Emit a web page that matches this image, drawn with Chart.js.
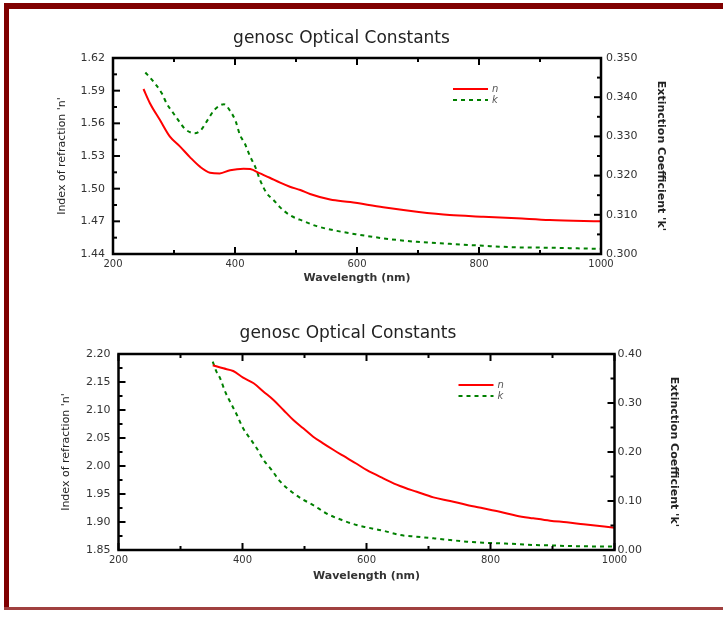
<!DOCTYPE html>
<html>
<head>
<meta charset="utf-8">
<title>genosc Optical Constants</title>
<script src="https://cdn.jsdelivr.net/npm/chart.js@4.4.1/dist/chart.umd.min.js"></script>
<style>
  body { margin: 0; width: 723px; height: 619px; background: #fff; position: relative; overflow: hidden; }
  .box { position: absolute; left: 0; width: 723px; }
  .band { position: absolute; background: #800000; }
</style>
</head>
<body>
<div class="band" style="left:4px; top:3px; width:719px; height:6px;"></div>
<div class="band" style="left:4px; top:3px; width:5px; height:607px;"></div>
<div class="band" style="left:4px; top:607px; width:719px; height:3px; background:#a0403f;"></div>

<div class="box" style="top:0; height:300px;"><canvas id="grafico1"></canvas></div>
<div class="box" style="top:300px; height:319px;"><canvas id="grafico2"></canvas></div>

<script>
// datos (longitud de onda en nm)
var xTicks = [200, 400, 600, 800, 1000];

// grafico de arriba
var arribaTicksN = [1.44, 1.47, 1.50, 1.53, 1.56, 1.59, 1.62];
var arribaTicksK = [0.300, 0.310, 0.320, 0.330, 0.340, 0.350];
var arribaOndaN = [250, 261, 277, 293, 310, 326, 343, 359, 375, 392, 414, 425, 441, 457, 474, 490, 507, 523, 556, 589, 643, 698, 752, 807, 862, 916, 1000];
var arribaN = [1.5915, 1.578, 1.563, 1.548, 1.5386, 1.529, 1.520, 1.5147, 1.514, 1.517, 1.5184, 1.518, 1.514, 1.510, 1.5055, 1.5018, 1.4988, 1.4951, 1.490, 1.4877, 1.4829, 1.4789, 1.4758, 1.4743, 1.4728, 1.4712, 1.4700];
var arribaOndaK = [253, 264, 280, 288, 299, 309, 318, 334, 344, 356, 367, 382, 392, 401, 408, 416, 425, 433, 441, 452, 463, 474, 490, 512, 534, 567, 600, 643, 698, 752, 807, 862, 916, 1000];
var arribaK = [0.3463, 0.3444, 0.3410, 0.3384, 0.3359, 0.3337, 0.3319, 0.3308, 0.3316, 0.3344, 0.3369, 0.3382, 0.3365, 0.3339, 0.3304, 0.3282, 0.3248, 0.3223, 0.3189, 0.3155, 0.3138, 0.3119, 0.3099, 0.3084, 0.3071, 0.3059, 0.3050, 0.3040, 0.3031, 0.3026, 0.3021, 0.3017, 0.3016, 0.3013];

// grafico de abajo
var abajoTicksN = [1.85, 1.90, 1.95, 2.00, 2.05, 2.10, 2.15, 2.20];
var abajoTicksK = [0.00, 0.10, 0.20, 0.30, 0.40];
var abajoOndaN = [352, 369, 385, 401, 418, 434, 450, 466, 482, 498, 514, 530, 547, 563, 584, 600, 627, 654, 681, 708, 735, 762, 788, 815, 842, 869, 896, 923, 950, 1000];
var abajoN = [2.180, 2.1744, 2.1696, 2.1577, 2.1477, 2.1327, 2.1179, 2.100, 2.0821, 2.0673, 2.0523, 2.0405, 2.0286, 2.0179, 2.004, 1.9929, 1.978, 1.9643, 1.954, 1.944, 1.9375, 1.9304, 1.9245, 1.9184, 1.9113, 1.9066, 1.9023, 1.8995, 1.8959, 1.8898];
var abajoOndaK = [352, 358, 364, 372, 380, 391, 401, 412, 423, 434, 447, 461, 479, 496, 514, 535, 563, 584, 600, 627, 654, 681, 708, 735, 762, 788, 815, 842, 869, 896, 923, 950, 1000];
var abajoK = [0.3843, 0.3639, 0.3504, 0.323, 0.3027, 0.2755, 0.2483, 0.228, 0.2075, 0.1837, 0.1633, 0.1394, 0.119, 0.1041, 0.0918, 0.0749, 0.0599, 0.051, 0.0463, 0.0394, 0.0306, 0.0272, 0.0238, 0.0204, 0.017, 0.015, 0.0136, 0.0122, 0.0102, 0.0095, 0.0082, 0.0075, 0.0072];

var fuente = 'DejaVu Sans';

function puntos(xs, ys) {
    return xs.map(function (x, i) { return { x: x, y: ys[i] }; });
}

// marco negro con marcas hacia adentro (mayores y menores)
var marcoTicks = {
    id: 'marcoTicks',
    afterDatasetsDraw: function (chart) {
        var ctx = chart.ctx, a = chart.chartArea, s = chart.scales;
        ctx.save();
        ctx.strokeStyle = '#000';
        ctx.lineWidth = 2;
        function marcas(scale, dibujar) {
            var vals = scale.ticks.map(function (t) { return t.value; });
            vals.forEach(function (v, i) {
                dibujar(scale.getPixelForValue(v), 7);
                if (i < vals.length - 1) dibujar(scale.getPixelForValue((v + vals[i + 1]) / 2), 4);
            });
        }
        function linea(x1, y1, x2, y2) {
            ctx.beginPath(); ctx.moveTo(x1, y1); ctx.lineTo(x2, y2); ctx.stroke();
        }
        marcas(s.x, function (p, l) { linea(p, a.bottom, p, a.bottom - l); linea(p, a.top, p, a.top + l); });
        marcas(s.yN, function (p, l) { linea(a.left, p, a.left + l, p); });
        marcas(s.yK, function (p, l) { linea(a.right, p, a.right - l, p); });
        ctx.lineWidth = 2.5;
        ctx.strokeRect(a.left, a.top, a.width, a.height);
        ctx.restore();
    }
};

// leyenda dentro del area del grafico
var leyendaInterna = {
    id: 'leyendaInterna',
    afterDraw: function (chart) {
        var ctx = chart.ctx, a = chart.chartArea;
        var x0 = a.left + 340, y0 = a.top + 31;
        ctx.save();
        chart.data.datasets.forEach(function (ds, i) {
            var y = y0 + i * 11;
            ctx.strokeStyle = ds.borderColor;
            ctx.lineWidth = 2;
            ctx.setLineDash(ds.borderDash || []);
            ctx.beginPath(); ctx.moveTo(x0, y); ctx.lineTo(x0 + 35, y); ctx.stroke();
            ctx.setLineDash([]);
            ctx.fillStyle = '#555';
            ctx.font = 'italic 10px ' + fuente;
            ctx.textBaseline = 'middle';
            ctx.fillText(ds.label, x0 + 39, y);
        });
        ctx.restore();
    }
};

function crearGrafico(id, cfg) {
    var ctx = document.getElementById(id).getContext('2d');
    return new Chart(ctx, {
        type: 'line',
        data: {
            datasets: [{
                label: 'n',
                data: puntos(cfg.ondaN, cfg.n),
                yAxisID: 'yN',
                borderColor: '#ff0000',
                borderWidth: 2,
                pointRadius: 0,
                cubicInterpolationMode: 'monotone'
            }, {
                label: 'k',
                data: puntos(cfg.ondaK, cfg.k),
                yAxisID: 'yK',
                borderColor: '#008000',
                borderWidth: 2,
                borderDash: [4, 4],
                pointRadius: 0,
                cubicInterpolationMode: 'monotone'
            }]
        },
        options: {
            responsive: true,
            maintainAspectRatio: false,
            animation: false,
            devicePixelRatio: 1,
            layout: { padding: { top: 0, left: 0, right: cfg.derecha, bottom: 0 } },
            plugins: {
                legend: { display: false },
                tooltip: { enabled: false },
                title: {
                    display: true,
                    text: 'genosc Optical Constants',
                    color: '#222',
                    font: { family: fuente, size: 17, weight: 'normal' },
                    padding: { top: cfg.tituloArriba, bottom: cfg.tituloAbajo }
                }
            },
            scales: {
                x: {
                    type: 'linear',
                    min: 200, max: 1000,
                    grid: { display: false, drawTicks: false },
                    border: { display: false },
                    afterBuildTicks: function (s) { s.ticks = xTicks.map(function (v) { return { value: v }; }); },
                    afterFit: function (s) { s.height = cfg.altoX; },
                    ticks: {
                        padding: 4, color: '#333', font: { family: fuente, size: 10 }, maxRotation: 0,
                        callback: function (v) { return String(v); }
                    },
                    title: {
                        display: true, text: 'Wavelength (nm)', color: '#333',
                        font: { family: fuente, size: 11, weight: 'bold' },
                        padding: { top: 0, bottom: cfg.tituloX }
                    }
                },
                yN: {
                    type: 'linear', position: 'left',
                    min: cfg.ticksN[0], max: cfg.ticksN[cfg.ticksN.length - 1],
                    grid: { display: false, drawTicks: false },
                    border: { display: false },
                    afterBuildTicks: function (s) { s.ticks = cfg.ticksN.map(function (v) { return { value: v }; }); },
                    afterFit: function (s) { s.width = cfg.izq; },
                    ticks: {
                        padding: 8, color: '#333', font: { family: fuente, size: 11 },
                        callback: function (v) { return v.toFixed(2); }
                    },
                    title: {
                        display: true, text: "Index of refraction 'n'", color: '#222',
                        font: { family: fuente, size: 11 },
                        padding: { top: cfg.tituloIzq, bottom: 0 }
                    }
                },
                yK: {
                    type: 'linear', position: 'right',
                    min: cfg.ticksK[0], max: cfg.ticksK[cfg.ticksK.length - 1],
                    grid: { display: false, drawTicks: false },
                    border: { display: false },
                    afterBuildTicks: function (s) { s.ticks = cfg.ticksK.map(function (v) { return { value: v }; }); },
                    afterFit: function (s) { s.width = cfg.der; },
                    ticks: {
                        padding: cfg.padK, color: '#333', font: { family: fuente, size: 11 },
                        callback: function (v) { return v.toFixed(cfg.decK); }
                    },
                    title: {
                        display: true, text: "Extinction Coefficient 'k'", color: '#222',
                        font: { family: fuente, size: 11, weight: 'bold' },
                        padding: { top: cfg.tituloDer, bottom: 0 }
                    }
                }
            }
        },
        plugins: [marcoTicks, leyendaInterna]
    });
}

crearGrafico('grafico1', {
    ondaN: arribaOndaN, n: arribaN, ondaK: arribaOndaK, k: arribaK,
    ticksN: arribaTicksN, ticksK: arribaTicksK, decK: 3,
    derecha: 40, izq: 113, der: 82, altoX: 46,
    tituloArriba: 28, tituloAbajo: 9.6, tituloX: 15, tituloIzq: 56, tituloDer: 16, padK: 5
});

crearGrafico('grafico2', {
    ondaN: abajoOndaN, n: abajoN, ondaK: abajoOndaK, k: abajoK,
    ticksN: abajoTicksN, ticksK: abajoTicksK, decK: 2,
    derecha: 27, izq: 118.5, der: 81.5, altoX: 69,
    tituloArriba: 23, tituloAbajo: 10.6, tituloX: 36, tituloIzq: 60, tituloDer: 16, padK: 3
});
</script>
</body>
</html>
